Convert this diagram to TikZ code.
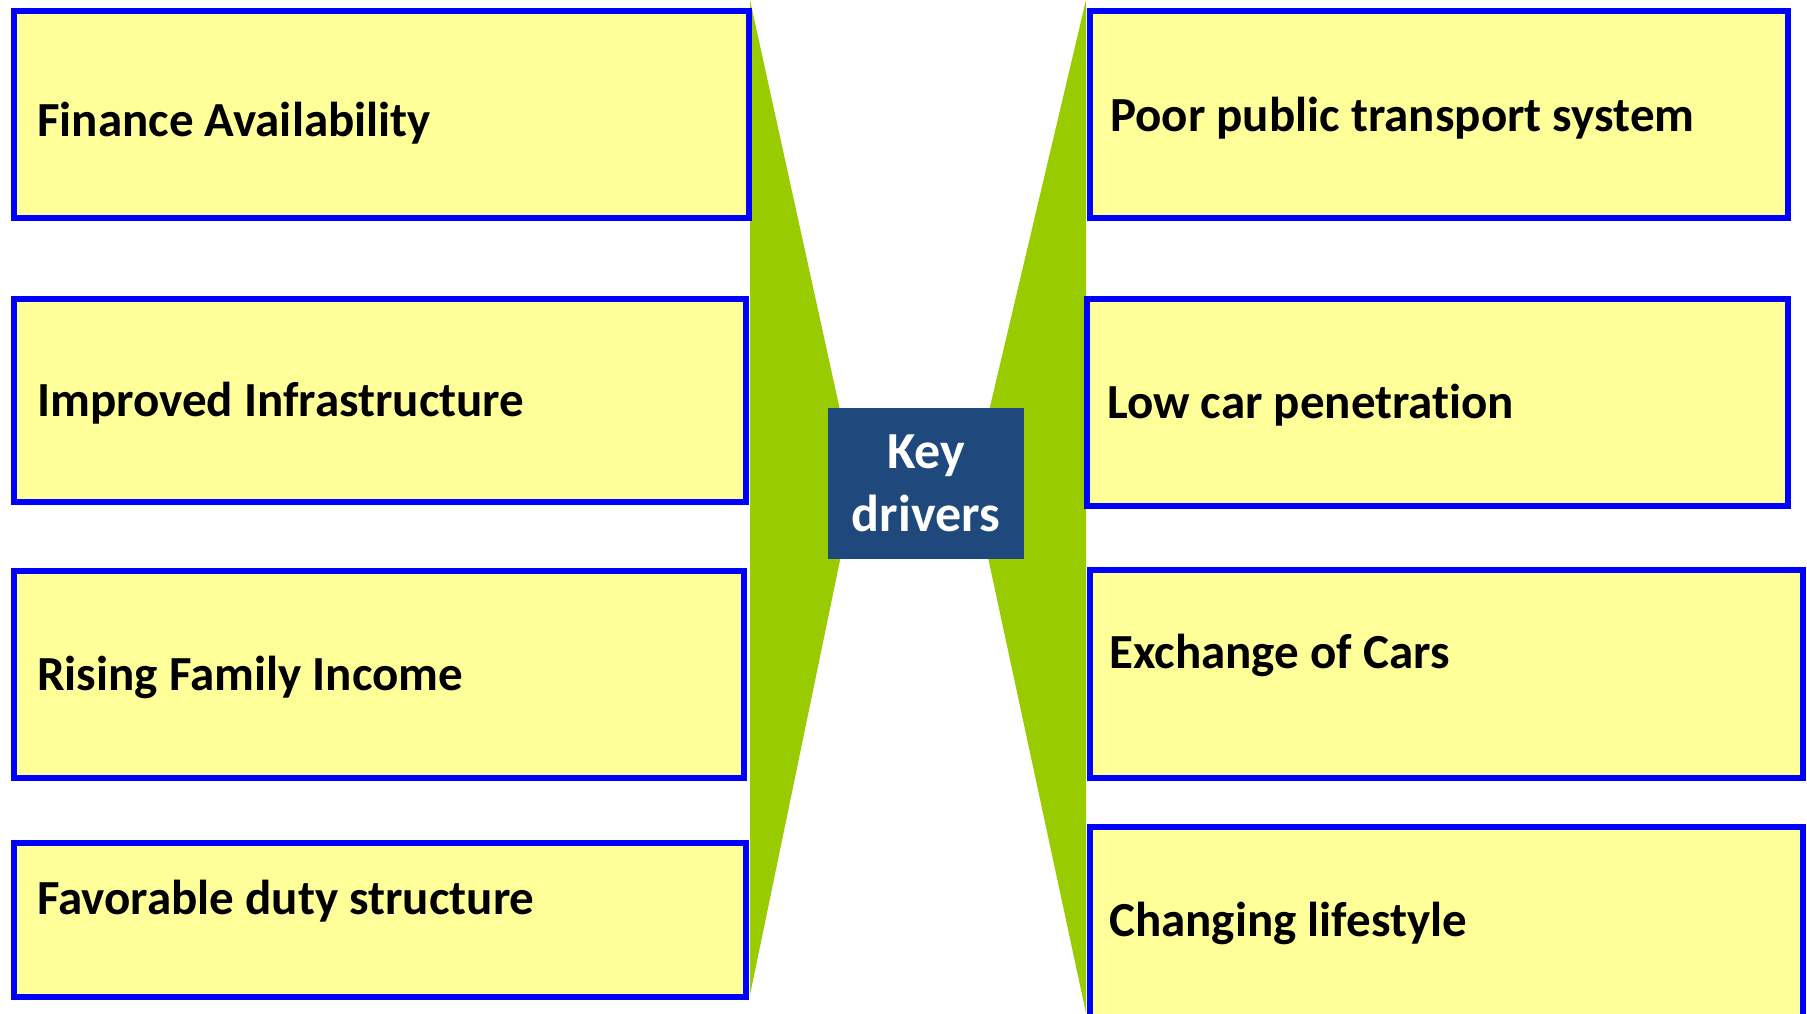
\documentclass[tikz,border=0pt]{standalone}
\usepackage{fontspec}
\setmainfont[Ligatures={NoCommon}]{Carlito}
\definecolor{boxfill}{HTML}{FFFF99}
\definecolor{boxline}{HTML}{0000FF}
\definecolor{wedge}{HTML}{99CC00}
\definecolor{hub}{HTML}{1F497D}
\tikzset{
  factor/.style={draw=boxline, line width=6pt, fill=boxfill, inner sep=0pt},
  factortext/.style={anchor=west, inner sep=0pt, font=\fontsize{49}{59}\selectfont\bfseries},
  hubbox/.style={fill=hub, inner sep=0pt, minimum width=196pt, minimum height=151pt,
    align=center, text=white, font=\fontsize{52}{63}\selectfont\bfseries}
}
\begin{document}
\begin{tikzpicture}[x=1pt, y=-1pt]
  \useasboundingbox (0,0) rectangle (1807,1013);

  % green wedges behind the boxes
  \fill[wedge] (750,0) -- (856,483) -- (750,995) -- cycle;
  \fill[wedge] (1086,0) -- (972,483) -- (1086,1013) -- cycle;

  % left column
  \node[factor, minimum width=734.5pt, minimum height=207pt] (fin) at (381.25,114) {};
  \node[factor, minimum width=731.5pt, minimum height=203pt] (infra) at (379.75,400) {};
  \node[factor, minimum width=729.5pt, minimum height=207pt] (income) at (378.75,674) {};
  \node[factor, minimum width=731.5pt, minimum height=154pt] (duty) at (379.75,919.5) {};

  \node[factortext] (fint) at (37,123) {Finance Availability};
  \node[factortext] (infrat) at (37,403) {Improved Infrastructure};
  \node[factortext] (incomet) at (37,677) {Rising Family Income};
  \node[factortext] (dutyt) at (37,901) {Favorable duty structure};

  % right column
  \node[factor, minimum width=698pt, minimum height=207pt] (transport) at (1438.5,114) {};
  \node[factor, minimum width=701pt, minimum height=207pt] (penetr) at (1437,402) {};
  \node[factor, minimum width=713pt, minimum height=208pt] (exch) at (1446,673.5) {};
  \node[factor, minimum width=713pt, minimum height=200pt] (life) at (1446,926.5) {};

  \node[factortext] (transportt) at (1110,118) {Poor public transport system};
  \node[factortext] (penetrt) at (1107,405) {Low car penetration};
  \node[factortext] (excht) at (1109,655) {Exchange of Cars};
  \node[factortext] (lifet) at (1109,923) {Changing lifestyle};

  % centre
  \node[hubbox] (hub) at (926,483.5) {Key\\drivers};
\end{tikzpicture}
\end{document}
